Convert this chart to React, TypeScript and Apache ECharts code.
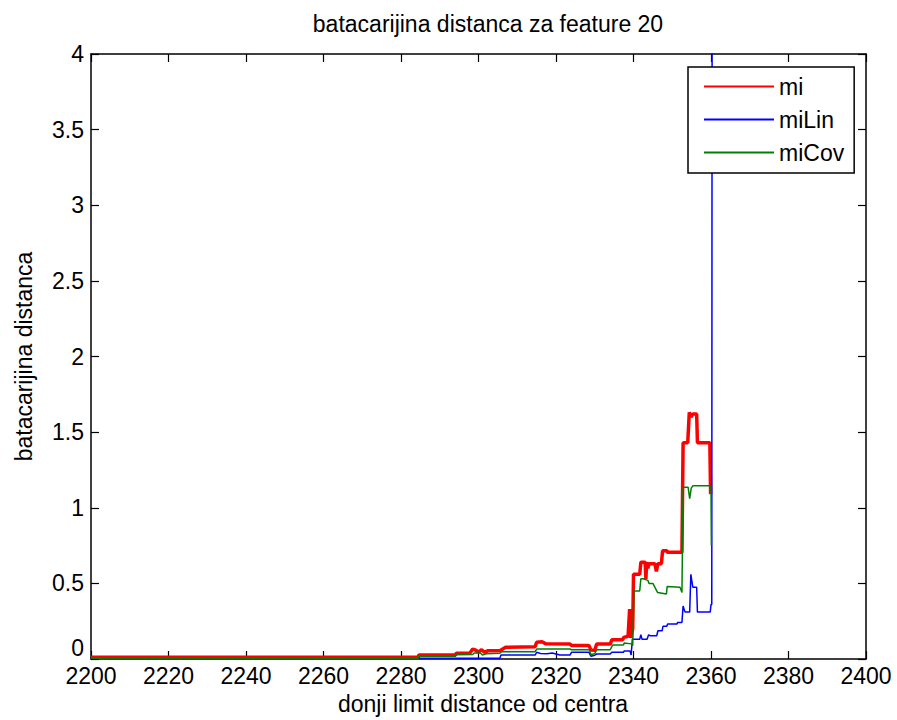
import React, { useEffect, useRef } from "react";
import * as echarts from "echarts";

const FONT = "'Liberation Sans', Arial, Helvetica, sans-serif";
const FS = 23;

const titleText = "batacarijina distanca za feature 20";
const xAxisName = "donji limit distance od centra";
const yAxisName = "batacarijina distanca";
const seriesNames = ["mi", "miLin", "miCov"];

const xMin = 2200, xMax = 2400, xStep = 20;
const yMin = 0, yMax = 4, yStep = 0.5;

// mi (red)
const miX = [2200, 2284.4, 2284.6, 2294, 2294.3, 2297.8, 2298.5, 2299.3, 2300, 2300.8, 2301.5, 2302.5, 2305.5, 2307, 2314.6, 2315, 2316.4, 2317.4, 2323.6, 2324, 2328.5, 2329, 2330, 2330.5, 2334, 2334.4, 2337.2, 2337.5, 2338.6, 2339, 2339.3, 2339.8, 2340, 2341.6, 2341.9, 2343, 2343.2, 2343.4, 2343.7, 2344, 2345.5, 2345.9, 2346.3, 2347.2, 2347.5, 2348.6, 2348.8, 2352.5, 2352.8, 2354, 2354.4, 2354.9, 2355.3, 2356.3, 2356.5, 2359.7, 2359.9];
const miY = [0.011, 0.011, 0.026, 0.026, 0.038, 0.04, 0.066, 0.058, 0.045, 0.062, 0.044, 0.055, 0.055, 0.078, 0.081, 0.11, 0.114, 0.1, 0.099, 0.09, 0.09, 0.06, 0.058, 0.099, 0.099, 0.127, 0.127, 0.143, 0.15, 0.33, 0.14, 0.2, 0.56, 0.56, 0.64, 0.64, 0.53, 0.64, 0.6, 0.63, 0.63, 0.58, 0.63, 0.63, 0.715, 0.715, 0.705, 0.705, 1.43, 1.43, 1.63, 1.6, 1.62, 1.62, 1.43, 1.43, 1.09];

// miLin (blue)
const miLinX = [2284.6, 2305.5, 2305.8, 2314.6, 2315, 2316, 2317.7, 2319, 2320, 2321, 2323.6, 2324, 2328.5, 2329, 2330, 2330.5, 2334, 2334.4, 2337.4, 2337.6, 2339.1, 2339.4, 2339.7, 2341.6, 2341.9, 2342.2, 2343.5, 2343.9, 2344.3, 2346, 2346.3, 2347.4, 2347.6, 2348.6, 2348.8, 2351.2, 2351.4, 2352.5, 2352.8, 2353.3, 2354.5, 2354.8, 2355.3, 2356.3, 2356.5, 2359.8, 2360, 2360.2, 2360.3];
const miLinY = [0.005, 0.005, 0.026, 0.026, 0.044, 0.037, 0.035, 0.04, 0.033, 0.026, 0.026, 0.044, 0.044, 0.018, 0.025, 0.033, 0.033, 0.044, 0.044, 0.053, 0.053, 0.026, 0.13, 0.13, 0.16, 0.13, 0.13, 0.16, 0.154, 0.154, 0.187, 0.187, 0.216, 0.216, 0.231, 0.231, 0.242, 0.242, 0.35, 0.31, 0.31, 0.56, 0.475, 0.475, 0.31, 0.31, 0.36, 0.36, 5];

// miCov (green)
const miCovX = [2200, 2284.4, 2284.6, 2294, 2294.3, 2298.5, 2299, 2300.5, 2301, 2302, 2305.5, 2306, 2314.6, 2315, 2323.6, 2324, 2328.6, 2329, 2330, 2330.5, 2334, 2334.3, 2334.6, 2337.4, 2337.6, 2339.5, 2339.8, 2340.1, 2341.6, 2341.9, 2342.5, 2343.7, 2344, 2345, 2346.2, 2348.5, 2348.7, 2352, 2352.5, 2352.8, 2354.1, 2354.5, 2354.9, 2355.3, 2360, 2360.1];
const miCovY = [0.005, 0.005, 0.018, 0.018, 0.028, 0.03, 0.04, 0.04, 0.026, 0.035, 0.038, 0.048, 0.048, 0.066, 0.066, 0.061, 0.061, 0.03, 0.035, 0.061, 0.061, 0.077, 0.092, 0.092, 0.105, 0.1, 0.088, 0.45, 0.45, 0.53, 0.53, 0.52, 0.5, 0.5, 0.44, 0.43, 0.48, 0.475, 0.44, 1.135, 1.135, 1.06, 1.13, 1.145, 1.145, 0.75];

const colors = ["#ff0000", "#0000ff", "#008000"];
const widths = [3.5, 1.5, 1.5];

const pairs = (xs: number[], ys: number[]) => xs.map((x, i) => [x, ys[i]]);

export default function App() {
  const ref = useRef<HTMLDivElement>(null);
  useEffect(() => {
    if (!ref.current) return;
    const chart = echarts.init(ref.current, undefined, { renderer: "svg" });
    const axisLine = { show: true, onZero: false, lineStyle: { color: "#000", width: 1.5 } };
    const tick = { show: true, inside: true, length: 8, lineStyle: { color: "#000", width: 1.2 } };
    const labelStyle = { color: "#000", fontSize: FS, fontFamily: FONT };
    const data = [pairs(miX, miY), pairs(miLinX, miLinY), pairs(miCovX, miCovY)];
    chart.setOption({
      animation: false,
      backgroundColor: "#fff",
      title: {
        text: titleText,
        left: 483,
        textAlign: "center",
        top: 7,
        textStyle: { fontSize: FS, fontWeight: "normal", color: "#000", fontFamily: FONT },
      },
      grid: { left: 91, right: 31, top: 54, bottom: 60, containLabel: false, show: true, backgroundColor: "#fff", borderWidth: 0 },
      legend: {
        orient: "vertical",
        left: 688,
        top: 67,
        backgroundColor: "#fff",
        borderColor: "#000",
        borderWidth: 1.5,
        padding: [8, 10, 9, 15],
        itemWidth: 70,
        itemHeight: 14,
        itemGap: 10,
        itemTextGap: 10,
        selectedMode: false,
        itemStyle: { opacity: 0, color: "transparent", borderWidth: 0 },
        textStyle: { fontSize: FS, color: "#000", fontFamily: FONT },
        data: seriesNames,
      },
      xAxis: [
        {
          type: "value", min: xMin, max: xMax, interval: xStep, position: "bottom",
          name: xAxisName, nameLocation: "middle", nameGap: 33,
          nameTextStyle: { fontSize: FS, color: "#000", fontFamily: FONT, padding: [0, 0, 0, 9] },
          axisLine, axisTick: tick, splitLine: { show: false },
          axisLabel: { ...labelStyle, margin: 5, formatter: (v: number) => String(v) },
        },
        {
          type: "value", min: xMin, max: xMax, interval: xStep, position: "top",
          axisLine, axisTick: tick, splitLine: { show: false }, axisLabel: { show: false },
        },
      ],
      yAxis: [
        {
          type: "value", min: yMin, max: yMax, interval: yStep, position: "left",
          name: yAxisName, nameLocation: "middle", nameGap: 56,
          nameTextStyle: { fontSize: FS, color: "#000", fontFamily: FONT },
          axisLine, axisTick: tick, splitLine: { show: false },
          axisLabel: { ...labelStyle, margin: 7, verticalAlignMinLabel: "bottom", formatter: (v: number) => String(v) },
        },
        {
          type: "value", min: yMin, max: yMax, interval: yStep, position: "right",
          axisLine, axisTick: tick, splitLine: { show: false }, axisLabel: { show: false },
        },
      ],
      series: seriesNames.map((name, i) => ({
        name,
        type: "line",
        data: data[i],
        xAxisIndex: 0,
        yAxisIndex: 0,
        symbol: "none",
        showSymbol: false,
        clip: true,
        color: colors[i],
        lineStyle: { color: colors[i], width: widths[i] },
        emphasis: { disabled: true },
        z: 2 + i,
      })),
    });
    return () => chart.dispose();
  }, []);
  return <div ref={ref} style={{ position: "fixed", left: 0, top: 0, width: 897, height: 720 }} />;
}
